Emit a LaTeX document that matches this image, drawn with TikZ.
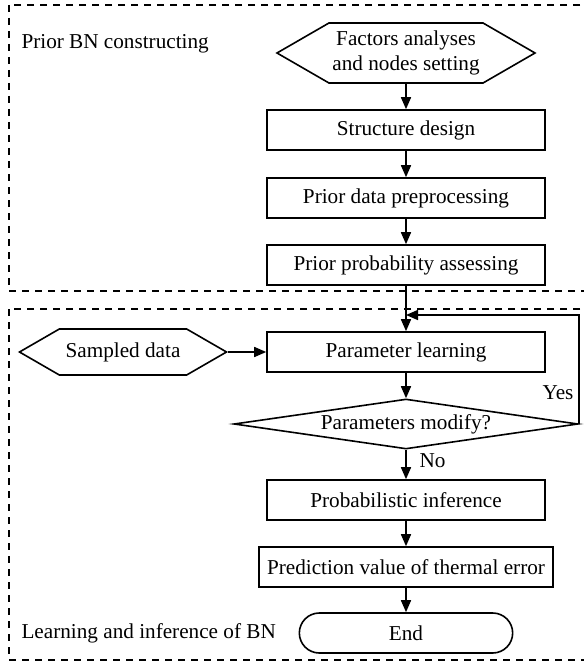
\documentclass[tikz,border=0pt]{standalone}
\usepackage{fontspec}
\setmainfont{Liberation Serif}
\usetikzlibrary{shapes.geometric,shapes.symbols,shapes.misc,arrows.meta}

\begin{document}
\begin{tikzpicture}[x=1pt,y=-1pt,
  every node/.style={font=\fontsize{21.2}{25}\selectfont},
  box/.style={draw,line width=1.6pt,minimum width=278pt,minimum height=40pt,inner xsep=8pt},
  hexa/.style={draw,line width=1.6pt,signal,signal to=west and east,signal pointer angle=60,inner sep=2pt},
  arr/.style={line width=1.6pt,-{Triangle[length=12pt,width=10pt]}},
  region/.style={line width=1.4pt,dash pattern=on 7pt off 6pt}]
\useasboundingbox (0,0) rectangle (583,663);
\draw[region] (9,5) rectangle (600,291);
\draw[region] (9,309) rectangle (600,660);
\node[anchor=west] (lab1) at (18,44) {Prior BN constructing};
\node[anchor=west] (lab2) at (18,633) {Learning and inference of BN};
\node[hexa,minimum width=258pt,minimum height=60pt,align=center] (fac) at (406,53) {Factors analyses\\and nodes setting};
\node[box] (sd) at (406,130) {Structure design};
\node[box] (pdp) at (406,198) {Prior data preprocessing};
\node[box] (ppa) at (406,265) {Prior probability assessing};
\node[box] (pl) at (406,352) {Parameter learning};
\node[hexa,minimum width=207pt,minimum height=46pt] (data) at (123,352) {Sampled data};
\node[draw,line width=1.6pt,diamond,aspect=7,minimum width=344pt,minimum height=50pt,inner sep=0pt] (pm) at (406,424) {Parameters modify?};
\node[box] (pi) at (406,500) {Probabilistic inference};
\node[box] (pv) at (406,567) {Prediction value of thermal error};
\node[draw,line width=1.6pt,rounded rectangle,minimum width=220pt,minimum height=40pt] (end) at (406,633) {End};
\coordinate (join) at (406,315);
\draw[arr] (fac) -- (sd);
\draw[arr] (sd) -- (pdp);
\draw[arr] (pdp) -- (ppa);
\draw[arr] (ppa) -- (pl);
\draw[arr] (data) -- (pl);
\draw[arr] (pl) -- (pm);
\draw[arr] (pm) -- (pi);
\draw[arr] (pi) -- (pv);
\draw[arr] (pv) -- (end);
\draw[arr] (pm.east) |- (join);
\node[anchor=east] (yes) at (577,393) {Yes};
\node[anchor=west] (no) at (416,461) {No};
\end{tikzpicture}
\end{document}
